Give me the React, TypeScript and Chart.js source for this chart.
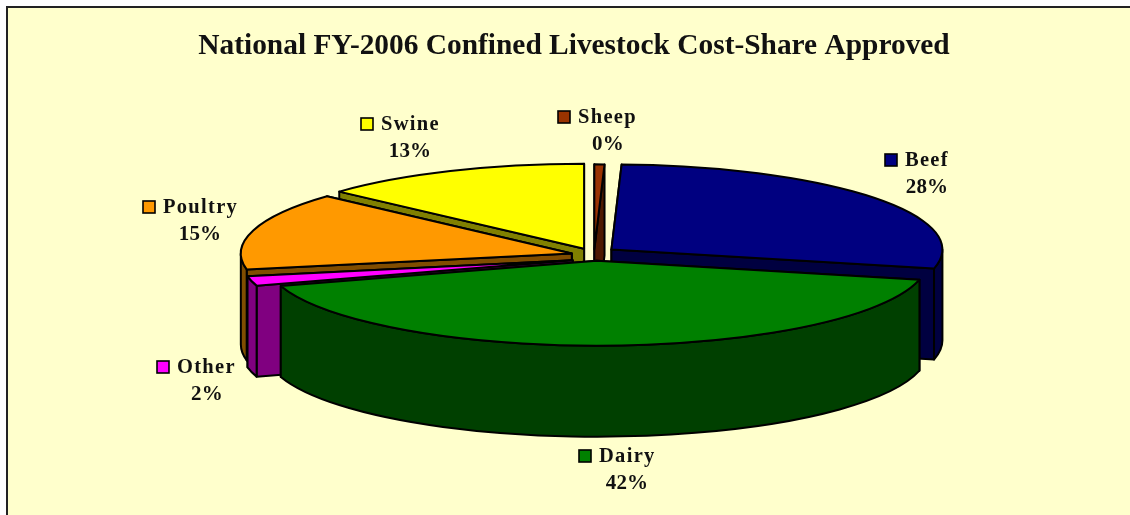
import React, { useEffect, useRef } from "react";
import { Chart, registerables } from "chart.js";

Chart.register(...registerables);

// Data, clockwise from 12 o'clock
const categories = ["Sheep", "Beef", "Dairy", "Other", "Poultry", "Swine"];
const shares = [0.49, 28.1, 41.6, 1.8, 14.75, 13.25];
const titleText = "National FY-2006 Confined Livestock Cost-Share Approved";

// Style
const topColors = ["#993300", "#000080", "#008000", "#FF00FF", "#FF9900", "#FFFF00"];
const wallColors = ["#4D1A00", "#000040", "#004000", "#800080", "#804D00", "#808000"];
const explode = [22, 22, 22, 22, 22, 22];

// 3-D projection of the library's arcs
const CX = 594, CY = 253, RX = 331, RY = 85, DEPTH = 91;
const nudgeX = [0, 0, 2, 0, -1, -1];
const nudgeY = [2, 0, 2, 6, 2, 1];
const paintOrder = [5, 0, 1, 4, 3, 2];

// Label anchors: swatch left, name baseline, percent centre x
const labelX = [558, 885, 579, 157, 143, 361];
const labelY = [123, 166, 462, 373, 213, 130];
const percentX = [608, 927, 627, 207, 200, 410];

const projector = {
  id: "projector",
  beforeDraw(chart: any) {
    const { ctx, width, height } = chart;
    ctx.save();
    ctx.fillStyle = "#FFFFFF";
    ctx.fillRect(0, 0, width, height);
    ctx.fillStyle = "#FFFFCC";
    ctx.fillRect(7, 7, width, height);
    ctx.fillStyle = "#222222";
    ctx.fillRect(6, 6, width, 2);
    ctx.fillRect(6, 6, 2, height);
    ctx.restore();
  },
  beforeDatasetsDraw(chart: any) {
    const { ctx } = chart;
    const arcs = chart.getDatasetMeta(0).data;
    ctx.save();
    ctx.lineWidth = 2;
    ctx.lineJoin = "round";
    ctx.strokeStyle = "#000000";
    for (const i of paintOrder) {
      const arc = arcs[i];
      const { startAngle: a0, endAngle: a1 } = arc.getProps(["startAngle", "endAngle"], true);
      const mid = (a0 + a1) / 2;
      const off = arc.options.offset;
      const cx = CX + off * Math.cos(mid) + nudgeX[i];
      const cy = CY + (off * Math.sin(mid) * RY) / RX + nudgeY[i];
      const ex = (a: number) => cx + RX * Math.cos(a);
      const ey = (a: number) => cy + RY * Math.sin(a);
      const quad = (a: number) => {
        ctx.beginPath();
        ctx.moveTo(cx, cy);
        ctx.lineTo(ex(a), ey(a));
        ctx.lineTo(ex(a), ey(a) + DEPTH);
        ctx.lineTo(cx, cy + DEPTH);
        ctx.closePath();
        ctx.fillStyle = wallColors[i];
        ctx.fill();
        ctx.stroke();
      };
      // the radial wall that faces the viewer goes on last
      if (Math.cos(mid) < 0) {
        quad(a1);
        quad(a0);
      } else {
        quad(a0);
        quad(a1);
      }
      const f0 = Math.max(a0, 0);
      const f1 = Math.min(a1, Math.PI);
      if (f1 > f0) {
        ctx.beginPath();
        ctx.ellipse(cx, cy, RX, RY, 0, f0, f1);
        ctx.ellipse(cx, cy + DEPTH, RX, RY, 0, f1, f0, true);
        ctx.closePath();
        ctx.fillStyle = wallColors[i];
        ctx.fill();
        ctx.stroke();
      }
      ctx.beginPath();
      ctx.moveTo(cx, cy);
      ctx.ellipse(cx, cy, RX, RY, 0, a0, a1);
      ctx.closePath();
      ctx.fillStyle = arc.options.backgroundColor;
      ctx.fill();
      ctx.stroke();
    }
    ctx.restore();
    return false;
  },
  afterDraw(chart: any) {
    const { ctx } = chart;
    const total = shares.reduce((s, v) => s + v, 0);
    ctx.save();
    ctx.textBaseline = "alphabetic";
    categories.forEach((name, i) => {
      ctx.fillStyle = topColors[i];
      ctx.fillRect(labelX[i], labelY[i] - 12, 12, 12);
      ctx.strokeStyle = "#000000";
      ctx.lineWidth = 1.6;
      ctx.strokeRect(labelX[i], labelY[i] - 12, 12, 12);
      ctx.fillStyle = "#111111";
      ctx.font = 'bold 20.5px "Liberation Serif"';
      ctx.textAlign = "left";
      (ctx as any).letterSpacing = "1.3px";
      ctx.fillText(name, labelX[i] + 20, labelY[i]);
      ctx.font = 'bold 21px "Liberation Serif"';
      (ctx as any).letterSpacing = "0.2px";
      ctx.textAlign = "center";
      ctx.fillText(Math.round((shares[i] / total) * 100) + "%", percentX[i], labelY[i] + 27);
    });
    ctx.restore();
  },
};

export default function App() {
  const ref = useRef<HTMLCanvasElement>(null);
  useEffect(() => {
    const chart = new Chart(ref.current as HTMLCanvasElement, {
      type: "pie",
      data: {
        labels: categories,
        datasets: [
          {
            data: shares,
            backgroundColor: topColors,
            offset: explode,
            borderWidth: 0,
          },
        ],
      },
      options: {
        responsive: false,
        animation: false,
        layout: { padding: { left: 18, top: 29 } },
        plugins: {
          legend: { display: false },
          tooltip: { enabled: false },
          title: {
            display: true,
            text: titleText,
            color: "#111111",
            font: { family: '"Liberation Serif"', size: 29.4, weight: "bold" },
            padding: 0,
          },
        },
      },
      plugins: [projector],
    } as any);
    return () => chart.destroy();
  }, []);
  return (
    <div style={{ position: "fixed", left: 0, top: 0, width: 1130, height: 515 }}>
      <canvas ref={ref} width={1130} height={515} style={{ display: "block" }} />
    </div>
  );
}
